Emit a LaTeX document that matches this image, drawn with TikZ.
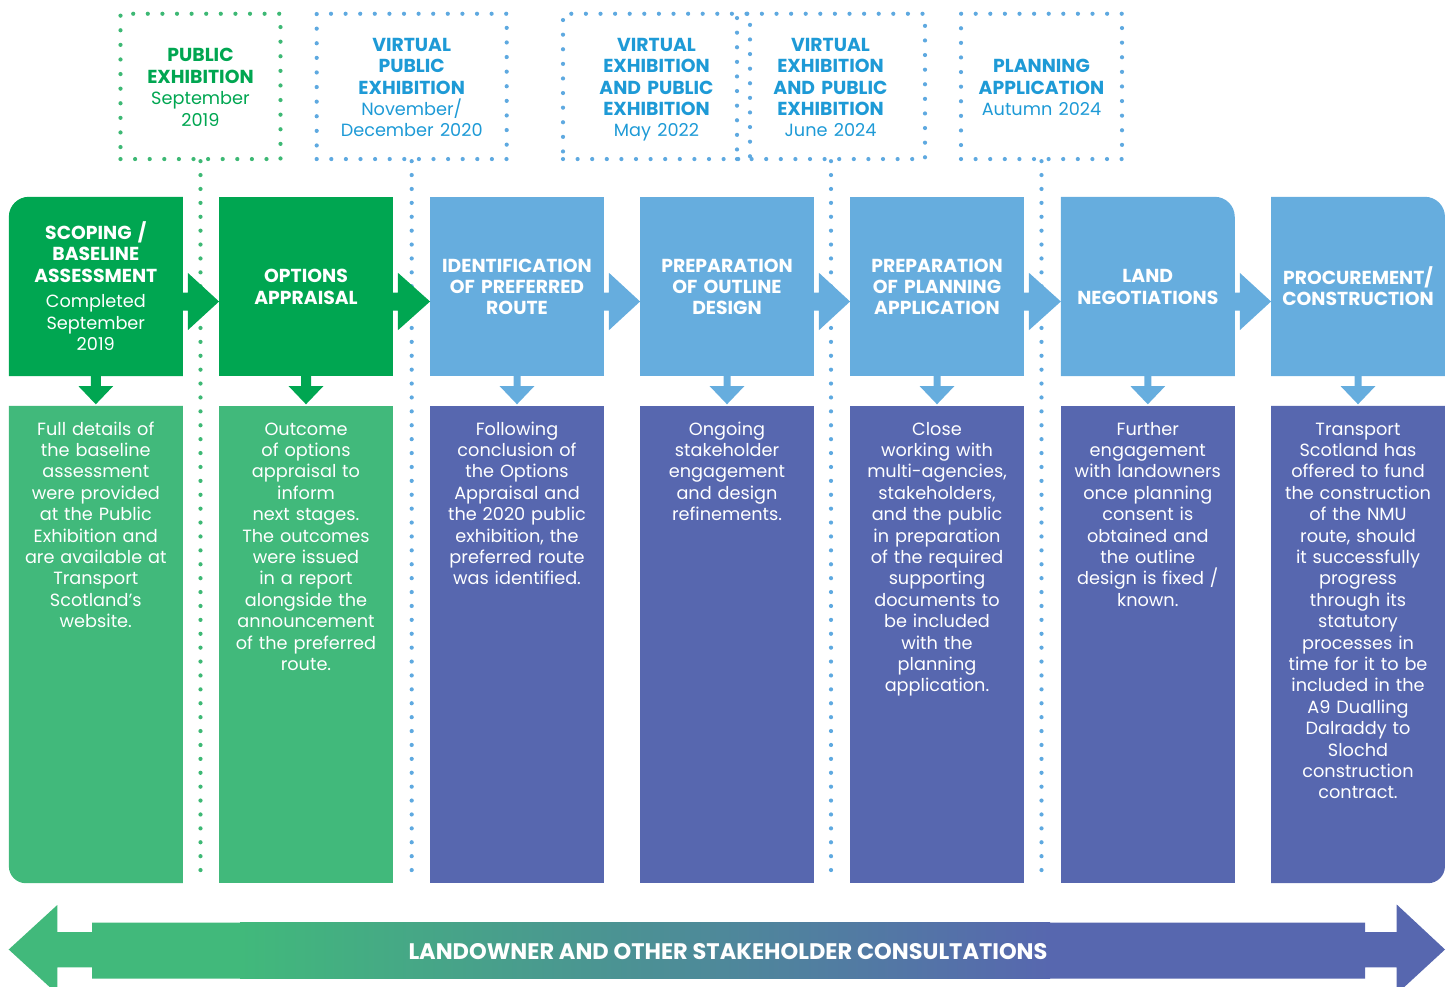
\documentclass[tikz,border=0pt]{standalone}
\usepackage{fontspec}
\setmainfont{Poppins}
\usetikzlibrary{calc,backgrounds}
\definecolor{dkgreen}{HTML}{00A651}
\definecolor{ltgreen}{HTML}{41B97B}
\definecolor{ltblue}{HTML}{66ADDE}
\definecolor{purp}{HTML}{5767AF}
\definecolor{txtgreen}{HTML}{00A651}
\definecolor{txtblue}{HTML}{1E9AD6}
\definecolor{dotgreen}{HTML}{3DB874}
\definecolor{dotblue}{HTML}{5EA9E0}
\newcommand\ttl{\fontsize{18.8}{21.4}\selectfont\bfseries}
\newcommand\rgl{\fontsize{17.7}{21.4}\selectfont\mdseries}
\newcommand\arrf{\fontsize{22.5}{26}\selectfont\bfseries}
\newcommand\rarr[3]{\fill[#3] ($(#1.east)+(-0.5,6)$) -- ($(#1.east)+(5,6)$) -- ($(#1.east)+(5,-13.7)$) -- ($(#2.west)+(0,15)$) -- ($(#1.east)+(5,43.7)$) -- ($(#1.east)+(5,24)$) -- ($(#1.east)+(-0.5,24)$) -- cycle;}
\newcommand\darr[4]{\fill[#3] ($(#1.south)+(-#4,-0.5)$) -- ($(#1.south)+(-#4,10)$) -- ($(#1.south)+(-17.3,10)$) -- ($(#2.north)+(0,-1.5)$) -- ($(#1.south)+(17.3,10)$) -- ($(#1.south)+(#4,10)$) -- ($(#1.south)+(#4,-0.5)$) -- cycle;}
\tikzset{
 topbox/.style={rectangle, minimum width=173.5pt, minimum height=179pt, inner sep=0pt},
 toptext/.style={text width=190pt, inner sep=0pt, align=center, text=white, font=\ttl},
 lowbox/.style={rectangle, minimum width=173.5pt, minimum height=477pt, inner sep=0pt},
 lowtext/.style={anchor=north, text width=200pt, inner sep=0pt, align=center, text=white, font=\rgl},
 dotbox/.style={rectangle, inner sep=0pt, minimum height=145.3pt, line width=4.2pt, line cap=round, dash pattern=on 0pt off 14.6pt},
 dottext/.style={text width=200pt, inner sep=0pt, align=center, font=\ttl},
 vdot/.style={line width=4.2pt, line cap=round, dash pattern=on 0pt off 13.9pt},
}
\begin{document}
\begin{tikzpicture}[x=1pt,y=-1pt]
\clip (0,0) rectangle (1451,986);
% top dotted milestone boxes
\node[dotbox, draw=dotgreen, minimum width=160pt] (p1) at (200.5,86.4) {};
\node[dotbox, draw=dotblue, minimum width=190pt] (p2) at (411.7,86.4) {};
\node[dotbox, draw=dotblue, minimum width=187pt] (p3) at (656.5,86.4) {};
\node[dotbox, draw=dotblue, minimum width=188pt] (p4) at (831,86.4) {};
\node[dotbox, draw=dotblue, minimum width=161pt] (p5) at (1041.5,86.4) {};
\node[dottext, text=txtgreen] (p1x) at (200.5,89.8) {\strut PUBLIC\\ EXHIBITION\\ \rgl September\\ 2019\strut};
\node[dottext, text=txtblue] (p2x) at (411.7,89.8) {\strut VIRTUAL\\ PUBLIC\\ EXHIBITION\\ \rgl November/\\ December 2020\strut};
\node[dottext, text=txtblue] (p3x) at (656.5,89.8) {\strut VIRTUAL\\ EXHIBITION\\ AND PUBLIC\\ EXHIBITION\\ \rgl May 2022\strut};
\node[dottext, text=txtblue] (p4x) at (830.5,89.8) {\strut VIRTUAL\\ EXHIBITION\\ AND PUBLIC\\ EXHIBITION\\ \rgl June 2024\strut};
\node[dottext, text=txtblue] (p5x) at (1041.5,89.8) {\strut PLANNING\\ APPLICATION\\ \rgl Autumn 2024\strut};
\coordinate (bot) at (0,883);
\draw[vdot, dotgreen] (p1.south) -- (p1.south |- bot);
\draw[vdot, dotblue] (p2.south) -- (p2.south |- bot);
\draw[vdot, dotblue] (p4.south) -- (p4.south |- bot);
\draw[vdot, dotblue] (p5.south) -- (p5.south |- bot);
% stage boxes
\node[topbox] (t1) at (95.8,286.5) {};
\node[topbox, fill=dkgreen] (t2) at (306,286.5) {};
\node[topbox, fill=ltblue] (t3) at (517,286.5) {};
\node[topbox, fill=ltblue] (t4) at (727,286.5) {};
\node[topbox, fill=ltblue] (t5) at (937,286.5) {};
\node[topbox] (t6) at (1147.8,286.5) {};
\node[topbox] (t7) at (1358,286.5) {};
\node[lowbox] (l1) at (95.8,644.5) {};
\node[lowbox, fill=ltgreen] (l2) at (306,644.5) {};
\node[lowbox, fill=purp] (l3) at (517,644.5) {};
\node[lowbox, fill=purp] (l4) at (727,644.5) {};
\node[lowbox, fill=purp] (l5) at (937,644.5) {};
\node[lowbox, fill=purp] (l6) at (1147.8,644.5) {};
\node[lowbox] (l7) at (1358,644.5) {};
\fill[dkgreen] (t1.south west) -- ([yshift=-20pt]t1.north west) arc[start angle=180, end angle=90, radius=20pt] -- (t1.north east) -- (t1.south east) -- cycle;
\fill[ltblue] (t6.north west) -- ([xshift=-20pt]t6.north east) arc[start angle=90, end angle=0, radius=20pt] -- (t6.south east) -- (t6.south west) -- cycle;
\fill[ltblue] (t7.north west) -- ([xshift=-20pt]t7.north east) arc[start angle=90, end angle=0, radius=20pt] -- (t7.south east) -- (t7.south west) -- cycle;
\fill[ltgreen] (l1.north west) -- ([yshift=17pt]l1.south west) arc[start angle=180, end angle=270, radius=17pt] -- (l1.south east) -- (l1.north east) -- cycle;
\fill[purp] (l7.north west) -- (l7.south west) -- ([xshift=-17pt]l7.south east) arc[start angle=270, end angle=360, radius=17pt] -- (l7.north east) -- cycle;
% stage titles
\node[toptext] (t1x) at ($(t1.center)+(0,2.8)$) {\strut SCOPING /\\ BASELINE\\ ASSESSMENT\\[4.5pt] \rgl Completed\\ September\\ 2019\strut};
\node[toptext] (t2x) at ($(t2.center)+(0,2.8)$) {\strut OPTIONS\\ APPRAISAL\strut};
\node[toptext] (t3x) at ($(t3.center)+(0,2.8)$) {\strut IDENTIFICATION\\ OF PREFERRED\\ ROUTE\strut};
\node[toptext] (t4x) at ($(t4.center)+(0,2.8)$) {\strut PREPARATION\\ OF OUTLINE\\ DESIGN\strut};
\node[toptext] (t5x) at ($(t5.center)+(0,2.8)$) {\strut PREPARATION\\ OF PLANNING\\ APPLICATION\strut};
\node[toptext] (t6x) at ($(t6.center)+(0,2.8)$) {\strut LAND\\ NEGOTIATIONS\strut};
\node[toptext] (t7x) at ($(t7.center)+(0,2.8)$) {\strut PROCUREMENT/\\ CONSTRUCTION\strut};
% stage descriptions
\node[lowtext] (d1) at (95.8,420) {\strut Full details of\\ the baseline\\ assessment\\ were provided\\ at the Public\\ Exhibition and\\ are available at\\ Transport\\ Scotland's\\ website.};
\node[lowtext] (d2) at (306,420) {\strut Outcome\\ of options\\ appraisal to\\ inform\\ next stages.\\ The outcomes\\ were issued\\ in a report\\ alongside the\\ announcement\\ of the preferred\\ route.};
\node[lowtext] (d3) at (517,420) {\strut Following\\ conclusion of\\ the Options\\ Appraisal and\\ the 2020 public\\ exhibition, the\\ preferred route\\ was identified.};
\node[lowtext] (d4) at (727,420) {\strut Ongoing\\ stakeholder\\ engagement\\ and design\\ refinements.};
\node[lowtext] (d5) at (937,420) {\strut Close\\ working with\\ multi-agencies,\\ stakeholders,\\ and the public\\ in preparation\\ of the required\\ supporting\\ documents to\\ be included\\ with the\\ planning\\ application.};
\node[lowtext] (d6) at (1147.8,420) {\strut Further\\ engagement\\ with landowners\\ once planning\\ consent is\\ obtained and\\ the outline\\ design is fixed /\\ known.};
\node[lowtext] (d7) at (1358,420) {\strut Transport\\ Scotland has\\ offered to fund\\ the construction\\ of the NMU\\ route, should\\ it successfully\\ progress\\ through its\\ statutory\\ processes in\\ time for it to be\\ included in the\\ A9 Dualling\\ Dalraddy to\\ Slochd\\ construction\\ contract.};
% arrows between stages
\rarr{t1}{t2}{dkgreen}
\rarr{t2}{t3}{dkgreen}
\rarr{t3}{t4}{ltblue}
\rarr{t4}{t5}{ltblue}
\rarr{t5}{t6}{ltblue}
\rarr{t6}{t7}{ltblue}
\darr{t1}{l1}{dkgreen}{5}
\darr{t2}{l2}{dkgreen}{5}
\darr{t3}{l3}{ltblue}{3.5}
\darr{t4}{l4}{ltblue}{3.5}
\darr{t5}{l5}{ltblue}{3.5}
\darr{t6}{l6}{ltblue}{3.5}
\darr{t7}{l7}{ltblue}{3.5}
% bottom consultation arrow
\fill[ltgreen] (8.7,949.5) -- (57.3,905) -- (57.3,932) -- (92,932) -- (92,922.5) -- (241,922.5) -- (241,978.5) -- (92,978.5) -- (92,967.3) -- (57.3,967.3) -- (57.3,994) -- cycle;
\shade[left color=ltgreen, right color=purp] (240,922.5) rectangle (1050,978.5);
\fill[purp] (1049,922.5) -- (1365,922.5) -- (1365,932) -- (1396.7,932) -- (1396.7,904.5) -- (1445,949.5) -- (1396.7,994) -- (1396.7,967.3) -- (1365,967.3) -- (1365,978.5) -- (1049,978.5) -- cycle;
\node[font=\arrf, text=white, inner sep=0pt] (consult) at (728,952) {LANDOWNER AND OTHER STAKEHOLDER CONSULTATIONS};
\end{tikzpicture}
\end{document}
